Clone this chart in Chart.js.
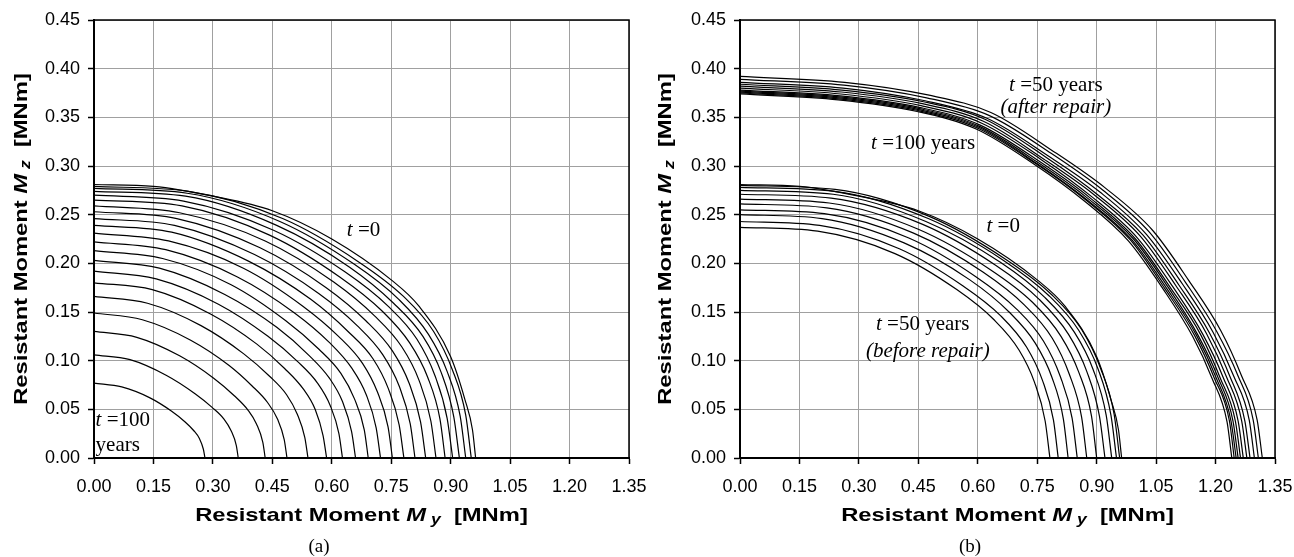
<!DOCTYPE html>
<html lang="en">
<head>
  <meta charset="UTF-8">
  <script src="https://cdn.jsdelivr.net/npm/chart.js"></script>
  <style>
    body { margin: 0; background: #fff; }
    .panel { position: absolute; top: 0; width: 647px; height: 557px; }
    #wrapA { left: 0; }
    #wrapB { left: 647px; }
  </style>
</head>
<body>
  <div class="panel" id="wrapA"><canvas id="chartA"></canvas></div>
  <div class="panel" id="wrapB"><canvas id="chartB"></canvas></div>

  <script>
    // x/y tick values (MNm)
    const xTicks = [0, 0.15, 0.30, 0.45, 0.60, 0.75, 0.90, 1.05, 1.20, 1.35];
    const yTicks = [0, 0.05, 0.10, 0.15, 0.20, 0.25, 0.30, 0.35, 0.40, 0.45];

    // (a) interaction curves, t = 0 ... 100 years, pairs of [My, Mz]
    const yearsA = [0, 5, 10, 15, 20, 25, 30, 35, 40, 45, 50, 55, 60, 65, 70, 75, 80, 85, 90, 95, 100];
    const curvesA = [
      [[0,0.281],[0.15,0.279],[0.30,0.269],[0.45,0.254],[0.60,0.225],[0.75,0.183],[0.82,0.156],[0.90,0.104],[0.936,0.060],[0.955,0.029],[0.963,0]],
      [[0,0.279],[0.238,0.274],[0.476,0.246],[0.666,0.202],[0.781,0.166],[0.857,0.130],[0.904,0.091],[0.938,0.044],[0.952,0]],
      [[0,0.277],[0.235,0.272],[0.469,0.243],[0.657,0.199],[0.769,0.163],[0.844,0.127],[0.891,0.089],[0.924,0.043],[0.938,0]],
      [[0,0.274],[0.231,0.269],[0.461,0.239],[0.645,0.196],[0.756,0.159],[0.830,0.125],[0.876,0.088],[0.908,0.042],[0.922,0]],
      [[0,0.270],[0.226,0.264],[0.453,0.234],[0.634,0.191],[0.742,0.156],[0.815,0.122],[0.860,0.085],[0.891,0.041],[0.905,0]],
      [[0,0.265],[0.222,0.259],[0.443,0.229],[0.620,0.186],[0.727,0.151],[0.797,0.118],[0.842,0.083],[0.873,0.040],[0.886,0]],
      [[0,0.259],[0.216,0.252],[0.432,0.223],[0.604,0.181],[0.708,0.146],[0.777,0.114],[0.820,0.080],[0.850,0.038],[0.863,0]],
      [[0,0.253],[0.209,0.246],[0.419,0.216],[0.586,0.175],[0.686,0.141],[0.753,0.110],[0.795,0.077],[0.824,0.037],[0.837,0]],
      [[0,0.246],[0.203,0.239],[0.405,0.209],[0.567,0.169],[0.664,0.136],[0.729,0.106],[0.770,0.074],[0.798,0.035],[0.810,0]],
      [[0,0.239],[0.196,0.232],[0.391,0.202],[0.547,0.163],[0.641,0.130],[0.704,0.102],[0.743,0.071],[0.770,0.034],[0.782,0]],
      [[0,0.231],[0.188,0.223],[0.377,0.195],[0.527,0.156],[0.617,0.125],[0.678,0.097],[0.715,0.068],[0.742,0.032],[0.753,0]],
      [[0,0.222],[0.181,0.214],[0.362,0.186],[0.506,0.149],[0.593,0.119],[0.651,0.092],[0.687,0.065],[0.712,0.031],[0.723,0]],
      [[0,0.213],[0.173,0.205],[0.346,0.178],[0.484,0.141],[0.567,0.112],[0.623,0.087],[0.657,0.061],[0.682,0.029],[0.692,0]],
      [[0,0.203],[0.165,0.195],[0.330,0.168],[0.462,0.134],[0.541,0.106],[0.594,0.082],[0.627,0.058],[0.650,0.027],[0.660,0]],
      [[0,0.192],[0.157,0.184],[0.314,0.158],[0.439,0.125],[0.514,0.099],[0.564,0.077],[0.596,0.054],[0.618,0.025],[0.627,0]],
      [[0,0.180],[0.147,0.173],[0.294,0.148],[0.411,0.117],[0.481,0.092],[0.528,0.071],[0.558,0.050],[0.578,0.023],[0.587,0]],
      [[0,0.166],[0.135,0.159],[0.270,0.136],[0.378,0.107],[0.443,0.084],[0.486,0.065],[0.513,0.045],[0.532,0.021],[0.540,0]],
      [[0,0.149],[0.122,0.142],[0.244,0.121],[0.341,0.095],[0.399,0.074],[0.438,0.057],[0.463,0.040],[0.480,0.019],[0.487,0]],
      [[0,0.130],[0.108,0.124],[0.216,0.105],[0.302,0.082],[0.354,0.064],[0.389,0.049],[0.410,0.035],[0.426,0.016],[0.432,0]],
      [[0,0.106],[0.091,0.101],[0.182,0.085],[0.255,0.066],[0.298,0.052],[0.328,0.040],[0.346,0.028],[0.359,0.013],[0.364,0]],
      [[0,0.077],[0.070,0.073],[0.140,0.062],[0.196,0.048],[0.230,0.037],[0.252,0.028],[0.266,0.020],[0.276,0.009],[0.280,0]]
    ];

    // (b) before repair, t = 0 ... 50 years
    const yearsBefore = [0, 5, 10, 15, 20, 25, 30, 35, 40, 45, 50];
    const curvesBefore = [
      [[0,0.281],[0.15,0.279],[0.30,0.269],[0.45,0.254],[0.60,0.225],[0.75,0.183],[0.82,0.156],[0.90,0.104],[0.936,0.060],[0.955,0.029],[0.963,0]],
      [[0,0.280],[0.240,0.276],[0.479,0.248],[0.671,0.204],[0.786,0.168],[0.862,0.132],[0.910,0.092],[0.944,0.045],[0.958,0]],
      [[0,0.278],[0.238,0.274],[0.475,0.246],[0.665,0.203],[0.779,0.167],[0.855,0.131],[0.903,0.092],[0.936,0.044],[0.950,0]],
      [[0,0.275],[0.235,0.271],[0.469,0.243],[0.657,0.201],[0.769,0.165],[0.844,0.129],[0.891,0.091],[0.924,0.044],[0.938,0]],
      [[0,0.271],[0.230,0.267],[0.461,0.240],[0.645,0.198],[0.755,0.163],[0.829,0.127],[0.875,0.089],[0.907,0.043],[0.921,0]],
      [[0,0.266],[0.225,0.262],[0.450,0.235],[0.630,0.194],[0.738,0.160],[0.810,0.125],[0.855,0.088],[0.887,0.043],[0.900,0]],
      [[0,0.261],[0.219,0.257],[0.438,0.231],[0.613,0.191],[0.718,0.157],[0.788,0.123],[0.831,0.086],[0.862,0.042],[0.875,0]],
      [[0,0.255],[0.213,0.251],[0.426,0.226],[0.596,0.186],[0.698,0.153],[0.766,0.120],[0.808,0.084],[0.838,0.041],[0.851,0]],
      [[0,0.250],[0.207,0.246],[0.414,0.221],[0.580,0.183],[0.679,0.150],[0.745,0.118],[0.787,0.083],[0.816,0.040],[0.828,0]],
      [[0,0.243],[0.201,0.239],[0.402,0.215],[0.562,0.177],[0.658,0.146],[0.723,0.114],[0.763,0.080],[0.791,0.039],[0.803,0]],
      [[0,0.237],[0.196,0.233],[0.391,0.210],[0.547,0.173],[0.641,0.142],[0.704,0.111],[0.743,0.078],[0.770,0.038],[0.782,0]]
    ];

    // (b) after repair, t = 50 ... 100 years
    const yearsAfter = [50, 55, 60, 65, 70, 75, 80, 85, 90, 95, 100];
    const curvesAfter = [
      [[0,0.392],[0.264,0.386],[0.474,0.373],[0.633,0.355],[0.791,0.315],[0.923,0.277],[1.041,0.234],[1.133,0.182],[1.213,0.131],[1.265,0.085],[1.305,0.039],[1.318,0]],
      [[0,0.389],[0.262,0.383],[0.471,0.370],[0.628,0.352],[0.785,0.313],[0.916,0.275],[1.033,0.232],[1.125,0.180],[1.203,0.130],[1.256,0.085],[1.295,0.039],[1.308,0]],
      [[0,0.386],[0.260,0.380],[0.467,0.367],[0.623,0.349],[0.779,0.310],[0.909,0.273],[1.025,0.230],[1.116,0.179],[1.194,0.129],[1.246,0.084],[1.285,0.039],[1.298,0]],
      [[0,0.384],[0.257,0.378],[0.463,0.366],[0.618,0.348],[0.772,0.309],[0.901,0.271],[1.017,0.229],[1.107,0.178],[1.184,0.129],[1.236,0.084],[1.274,0.038],[1.287,0]],
      [[0,0.382],[0.256,0.376],[0.460,0.364],[0.614,0.346],[0.767,0.307],[0.895,0.270],[1.010,0.228],[1.100,0.177],[1.177,0.128],[1.228,0.083],[1.266,0.038],[1.279,0]],
      [[0,0.380],[0.254,0.374],[0.457,0.362],[0.610,0.344],[0.762,0.306],[0.889,0.268],[1.003,0.226],[1.092,0.176],[1.168,0.127],[1.219,0.083],[1.257,0.038],[1.270,0]],
      [[0,0.378],[0.253,0.372],[0.455,0.360],[0.606,0.342],[0.758,0.304],[0.884,0.267],[0.998,0.225],[1.086,0.175],[1.162,0.127],[1.212,0.082],[1.250,0.038],[1.263,0]],
      [[0,0.377],[0.251,0.371],[0.453,0.359],[0.603,0.341],[0.754,0.303],[0.880,0.266],[0.993,0.225],[1.081,0.175],[1.156,0.126],[1.207,0.082],[1.244,0.038],[1.257,0]],
      [[0,0.376],[0.250,0.370],[0.451,0.358],[0.601,0.340],[0.751,0.302],[0.876,0.265],[0.989,0.224],[1.077,0.174],[1.152,0.126],[1.202,0.082],[1.239,0.038],[1.252,0]],
      [[0,0.375],[0.249,0.369],[0.449,0.357],[0.599,0.339],[0.748,0.302],[0.873,0.265],[0.985,0.224],[1.072,0.174],[1.147,0.126],[1.197,0.082],[1.235,0.038],[1.247,0]],
      [[0,0.374],[0.248,0.368],[0.447,0.356],[0.596,0.338],[0.745,0.301],[0.869,0.264],[0.980,0.223],[1.067,0.174],[1.142,0.125],[1.191,0.082],[1.229,0.037],[1.241,0]]
    ];

    const serif = '"Liberation Serif", "Times New Roman", serif';
    const sans = '"Liberation Sans", Arial, sans-serif';

    // text notes placed in data coordinates
    const notesA = [
      { x: 0.638, y: 0.234, align: 'left', parts: [['t', 'italic'], [' =0', 'normal']] },
      { x: 0.004, y: 0.039, align: 'left', parts: [['t', 'italic'], [' =100', 'normal']] },
      { x: 0.004, y: 0.013, align: 'left', parts: [['years', 'normal']] }
    ];
    const notesB = [
      { x: 0.797, y: 0.383, align: 'center', parts: [['t', 'italic'], [' =50 years', 'normal']] },
      { x: 0.797, y: 0.360, align: 'center', parts: [['(after repair)', 'italic']] },
      { x: 0.462, y: 0.323, align: 'center', parts: [['t', 'italic'], [' =100 years', 'normal']] },
      { x: 0.622, y: 0.238, align: 'left', parts: [['t', 'italic'], [' =0', 'normal']] },
      { x: 0.461, y: 0.137, align: 'center', parts: [['t', 'italic'], [' =50 years', 'normal']] },
      { x: 0.474, y: 0.109, align: 'center', parts: [['(before repair)', 'italic']] }
    ];

    function toDatasets(curves) {
      return curves.map(c => ({
        data: c.map(p => ({ x: p[0], y: p[1] })),
        borderColor: '#000',
        borderWidth: 1.2,
        pointRadius: 0,
        fill: false,
        cubicInterpolationMode: 'monotone'
      }));
    }

    function drawParts(ctx, parts, x, y, align, size) {
      let widths = parts.map(p => {
        ctx.font = p[1] + ' ' + size + 'px ' + serif;
        return ctx.measureText(p[0]).width;
      });
      let total = widths.reduce((a, b) => a + b, 0);
      let cx = align === 'center' ? x - total / 2 : x;
      parts.forEach((p, i) => {
        ctx.font = p[1] + ' ' + size + 'px ' + serif;
        ctx.fillText(p[0], cx, y);
        cx += widths[i];
      });
    }

    // axis title with italic M and subscript, stretched sideways like the original
    function drawTitle(ctx, sub, cx, cy) {
      const segs = [
        ['Resistant Moment ', 'bold 19px ' + sans, 0],
        ['M', 'italic bold 19px ' + sans, 0],
        [' ' + sub, 'italic bold 14px ' + sans, 4],
        ['  [MNm]', 'bold 19px ' + sans, 0]
      ];
      let w = segs.map(s => { ctx.font = s[1]; return ctx.measureText(s[0]).width; });
      let x = -w.reduce((a, b) => a + b, 0) / 2;
      ctx.save();
      ctx.translate(cx, cy);
      ctx.scale(1.25, 1);
      ctx.textBaseline = 'middle';
      ctx.textAlign = 'left';
      segs.forEach((s, i) => {
        ctx.font = s[1];
        ctx.fillText(s[0], x, s[2]);
        x += w[i];
      });
      ctx.restore();
    }

    const decorPlugin = {
      id: 'decor',
      afterDatasetsDraw(chart, args, opts) {
        const ctx = chart.ctx;
        const a = chart.chartArea;
        const xs = chart.scales.x, ys = chart.scales.y;
        ctx.save();
        // frame
        ctx.strokeStyle = '#000';
        ctx.lineWidth = 1.5;
        ctx.strokeRect(a.left, a.top, a.right - a.left, a.bottom - a.top);
        // notes
        ctx.fillStyle = '#000';
        ctx.textBaseline = 'middle';
        ctx.textAlign = 'left';
        opts.notes.forEach(n => {
          drawParts(ctx, n.parts, xs.getPixelForValue(n.x), ys.getPixelForValue(n.y), n.align, 21);
        });
        // axis titles
        drawTitle(ctx, 'y', (a.left + a.right) / 2, 516);
        ctx.save();
        ctx.translate(opts.yTitleX, (a.top + a.bottom) / 2);
        ctx.rotate(-Math.PI / 2);
        drawTitle(ctx, 'z', 0, 0);
        ctx.restore();
        // caption
        ctx.font = '19px ' + serif;
        ctx.textAlign = 'center';
        ctx.textBaseline = 'middle';
        ctx.fillText(opts.caption, opts.captionX, 547);
        ctx.restore();
      }
    };

    function makeChart(id, curves, notes, caption, captionX, yTitleX, axisLeft, padRight) {
      return new Chart(document.getElementById(id), {
        type: 'line',
        data: { datasets: toDatasets(curves) },
        plugins: [decorPlugin],
        options: {
          responsive: true,
          maintainAspectRatio: false,
          animation: false,
          layout: { padding: { top: 20, right: padRight, bottom: 0, left: 0 } },
          plugins: {
            legend: { display: false },
            tooltip: { enabled: false },
            decor: { notes: notes, caption: caption, captionX: captionX, yTitleX: yTitleX }
          },
          scales: {
            x: {
              type: 'linear',
              min: 0, max: 1.35,
              afterFit: s => { s.height = 99; s.paddingLeft = 0; s.paddingRight = 0; },
              afterBuildTicks: s => { s.ticks = xTicks.map(v => ({ value: v })); },
              ticks: { callback: v => v.toFixed(2), color: '#000', padding: 12, font: { family: sans, size: 18 }, maxRotation: 0 },
              grid: { color: '#a0a0a0', lineWidth: 1, tickLength: 6, tickColor: '#000', tickWidth: 1.5 },
              border: { color: '#000', width: 2 }
            },
            y: {
              type: 'linear',
              min: 0, max: 0.45,
              afterFit: s => { s.width = axisLeft; s.paddingTop = 0; s.paddingBottom = 0; },
              afterBuildTicks: s => { s.ticks = yTicks.map(v => ({ value: v })); },
              ticks: { callback: v => v.toFixed(2), color: '#000', padding: 8, font: { family: sans, size: 18 } },
              grid: { color: '#a0a0a0', lineWidth: 1, tickLength: 6, tickColor: '#000', tickWidth: 1.5 },
              border: { color: '#000', width: 2 }
            }
          }
        }
      });
    }

    makeChart('chartA', curvesA, notesA, '(a)', 319, 22, 94, 18);
    makeChart('chartB', curvesBefore.concat(curvesAfter), notesB, '(b)', 323, 19, 93, 19);
  </script>
</body>
</html>
